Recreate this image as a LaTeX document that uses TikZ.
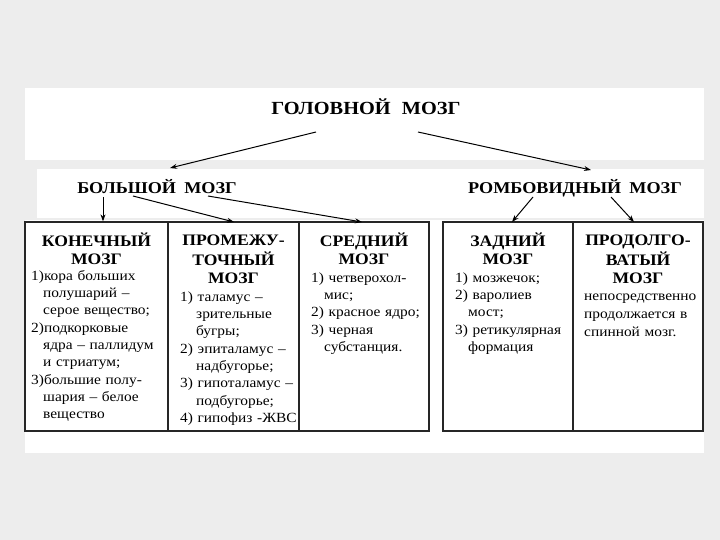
\documentclass[tikz,border=0pt]{standalone}
\usepackage{fontspec}
\setmainfont{Liberation Serif}[FakeStretch=1.1]
\usetikzlibrary{arrows.meta}
\newcommand\ind[1]{\\\hspace*{#1}}
\begin{document}
\begin{tikzpicture}[x=1pt,y=-1pt,
  panel/.style={fill=white},
  cell/.style={draw=black!85,line width=1.3pt,rectangle,minimum height=209pt,inner sep=0pt},
  head/.style={font=\fontsize{18.5}{20}\selectfont\bfseries,inner sep=0pt,anchor=base},
  lab/.style={font=\fontsize{16.5}{18}\selectfont\bfseries,inner sep=0pt,anchor=base},
  ttl/.style={font=\fontsize{16}{18}\selectfont\bfseries,inner sep=0pt,anchor=north,align=center},
  body/.style={font=\fontsize{14}{17.3}\selectfont,inner sep=0pt,anchor=north west,text width=150pt,align=left},
  arr/.style={line width=1pt,-{Stealth[length=7pt,width=5pt]}}]
\useasboundingbox (0,0) rectangle (720,540);
\fill[black!7] (0,0) rectangle (720,540);
\fill[panel] (25,88) rectangle (704,160);
\fill[panel] (37,169) rectangle (704,218);
\fill[panel] (25,220) rectangle (704,453);
% boxes
\node[cell,minimum width=143pt] (b1) at (96.5,326.5) {};
\node[cell,minimum width=131pt] (b2) at (233.5,326.5) {};
\node[cell,minimum width=130pt] (b3) at (364,326.5) {};
\node[cell,minimum width=130pt] (b4) at (508,326.5) {};
\node[cell,minimum width=130pt] (b5) at (638,326.5) {};
% headings
\node[head] (gm) at (366,115) {ГОЛОВНОЙ\hspace{0.6em}МОЗГ};
\node[lab] (bm) at (157,194) {БОЛЬШОЙ\hspace{0.5em}МОЗГ};
\node[lab] (rm) at (575,194) {РОМБОВИДНЫЙ\hspace{0.5em}МОЗГ};
% arrow coordinates
\coordinate (gL) at (316,132); \coordinate (gLe) at (170,168);
\coordinate (gR) at (418,132); \coordinate (gRe) at (591,170);
\coordinate (bA) at (103,197); \coordinate (bB) at (133,196); \coordinate (bC) at (208,196);
\coordinate (rA) at (533,197); \coordinate (rB) at (611,197);
\draw[arr] (gL) -- (gLe);
\draw[arr] (gR) -- (gRe);
\draw[arr] (bA) -- (b1.north -| bA);
\draw[arr] (bB) -- (234,222);
\draw[arr] (bC) -- (362,222);
\draw[arr] (rA) -- (512,222);
\draw[arr] (rB) -- (634,222);
% titles
\node[ttl] (t1) at (96.5,233) {\strut КОНЕЧНЫЙ\\МОЗГ};
\node[ttl] (t2) at (233.5,233) {\strut ПРОМЕЖУ-\\ТОЧНЫЙ\\МОЗГ};
\node[ttl] (t3) at (364,233) {\strut СРЕДНИЙ\\МОЗГ};
\node[ttl] (t4) at (508,233) {\strut ЗАДНИЙ\\МОЗГ};
\node[ttl] (t5) at (638,233) {\strut ПРОДОЛГО-\\ВАТЫЙ\\МОЗГ};
% bodies
\node[body] (d1) at (31,268) {\strut 1)кора больших\ind{12pt}полушарий –\ind{12pt}серое вещество;\\2)подкорковые\ind{12pt}ядра – паллидум\ind{12pt}и стриатум;\\3)большие полу-\ind{12pt}шария – белое\ind{12pt}вещество};
\node[body] (d2) at (180,289) {\strut 1) таламус –\ind{16pt}зрительные\ind{16pt}бугры;\\2) эпиталамус –\ind{16pt}надбугорье;\\3) гипоталамус –\ind{16pt}подбугорье;\\4) гипофиз -ЖВС};
\node[body] (d3) at (311,270) {\strut 1) четверохол-\ind{13pt}мис;\\2) красное ядро;\\3) черная\ind{13pt}субстанция.};
\node[body] (d4) at (455,270) {\strut 1) мозжечок;\\2) варолиев\ind{13pt}мост;\\3) ретикулярная\ind{13pt}формация};
\node[body,font=\fontsize{14}{18}\selectfont] (d5) at (584,288) {\strut непосредственно\\продолжается в\\спинной мозг.};
\end{tikzpicture}
\end{document}
